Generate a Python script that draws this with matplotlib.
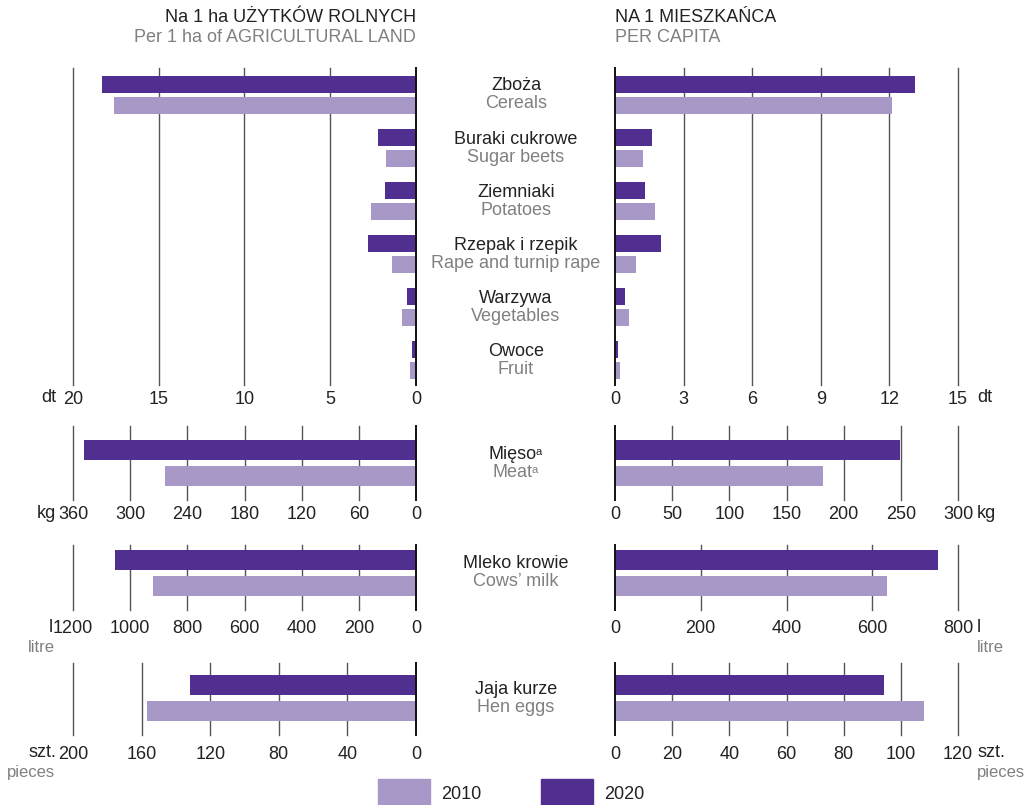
import matplotlib.pyplot as plt
from matplotlib.patches import Rectangle

plt.rcParams['font.family'] = ['Liberation Sans', 'DejaVu Sans']

W, H = 1035, 805
C2010 = '#a898c8'
C2020 = '#512f90'
DARK = '#222222'
GRAY = '#808080'
FS = 13

# data
crops_pl = ['Zboża', 'Buraki cukrowe', 'Ziemniaki', 'Rzepak i rzepik', 'Warzywa', 'Owoce']
crops_en = ['Cereals', 'Sugar beets', 'Potatoes', 'Rape and turnip rape', 'Vegetables', 'Fruit']
crops_ha_2010 = [17.6, 1.73, 2.63, 1.38, 0.8, 0.33]
crops_ha_2020 = [18.3, 2.2, 1.79, 2.78, 0.51, 0.21]
crops_cap_2010 = [12.1, 1.21, 1.74, 0.9, 0.6, 0.2]
crops_cap_2020 = [13.1, 1.6, 1.3, 2.0, 0.42, 0.12]

meat_ha_2010, meat_ha_2020 = [263], [348]
meat_cap_2010, meat_cap_2020 = [182], [249]
milk_ha_2010, milk_ha_2020 = [921], [1054]
milk_cap_2010, milk_cap_2020 = [634], [753]
eggs_ha_2010, eggs_ha_2020 = [157], [132]
eggs_cap_2010, eggs_cap_2020 = [108], [94]

crops_ha_ticks = [0, 5, 10, 15, 20]
crops_cap_ticks = [0, 3, 6, 9, 12, 15]
meat_ha_ticks = [0, 60, 120, 180, 240, 300, 360]
meat_cap_ticks = [0, 50, 100, 150, 200, 250, 300]
milk_ha_ticks = [0, 200, 400, 600, 800, 1000, 1200]
milk_cap_ticks = [0, 200, 400, 600, 800]
eggs_ha_ticks = [0, 40, 80, 120, 160, 200]
eggs_cap_ticks = [0, 20, 40, 60, 80, 100, 120]

fig = plt.figure(figsize=(W / 100, H / 100), dpi=100)


def fx(x):
    return x / W


def fy(y):
    return 1 - y / H


def make_ax(x0, x1, y0, y1):
    return fig.add_axes([fx(x0), fy(y1), (x1 - x0) / W, (y1 - y0) / H])


def draw_panel(ax, v2010, v2020, centers, off, h, ticks, left, span, pad):
    ax.set_ylim(span, 0)
    for t in ticks[1:]:
        ax.axvline(t, color='#555555', lw=1.0, zorder=0, clip_on=False)
    ax.barh([c + off for c in centers], v2010, height=h, color=C2010, zorder=2)
    ax.barh([c - off for c in centers], v2020, height=h, color=C2020, zorder=2)
    ax.axvline(0, color='#111111', lw=1.4, zorder=3, clip_on=False)
    if left:
        ax.set_xlim(ticks[-1], 0)
    else:
        ax.set_xlim(0, ticks[-1])
    ax.set_xticks(ticks)
    ax.set_xticklabels([str(t) for t in ticks])
    ax.set_yticks([])
    ax.tick_params(axis='x', length=0, pad=pad, labelsize=FS, labelcolor=DARK)
    for s in ax.spines.values():
        s.set_visible(False)
    ax.patch.set_alpha(0)


LX0, LX1, RX0, RX1 = 73, 416, 615, 958
panels = [
    # top, bottom, pair centers (px from top), bar offset, bar height, tick pad
    (68, 385, [27 + 53 * i for i in range(6)], 10.5, 17, 4.0,
     crops_ha_2010, crops_ha_2020, crops_ha_ticks,
     crops_cap_2010, crops_cap_2020, crops_cap_ticks),
    (426, 500, [37], 13, 20, 4.5,
     meat_ha_2010, meat_ha_2020, meat_ha_ticks,
     meat_cap_2010, meat_cap_2020, meat_cap_ticks),
    (545, 610, [28], 13, 20, 7.5,
     milk_ha_2010, milk_ha_2020, milk_ha_ticks,
     milk_cap_2010, milk_cap_2020, milk_cap_ticks),
    (663, 735, [35], 13, 20, 8.0,
     eggs_ha_2010, eggs_ha_2020, eggs_ha_ticks,
     eggs_cap_2010, eggs_cap_2020, eggs_cap_ticks),
]

axes = []
for top, bot, centers, off, h, pad, l10, l20, lt, r10, r20, rt in panels:
    axl = make_ax(LX0, LX1, top, bot)
    draw_panel(axl, l10, l20, centers, off, h, lt, True, bot - top, pad)
    axr = make_ax(RX0, RX1, top, bot)
    draw_panel(axr, r10, r20, centers, off, h, rt, False, bot - top, pad)
    axes.append(axl)

# category labels in the middle ("a" marks a footnote superscript)
labels_pl = crops_pl + ['Mięso', 'Mleko krowie', 'Jaja kurze']
labels_en = crops_en + ['Meat', 'Cows’ milk', 'Hen eggs']
footnote = [False] * 6 + [True, False, False]
mids = [68 + 27 + 53 * i for i in range(6)] + [463, 573, 698]
for pl, en, m, fn in zip(labels_pl, labels_en, mids, footnote):
    shift = -3 if fn else 0
    t1 = fig.text(fx(516 + shift), fy(m - 9), pl, ha='center', va='center', fontsize=FS, color=DARK)
    t2 = fig.text(fx(516 + shift), fy(m + 9), en, ha='center', va='center', fontsize=FS, color=GRAY)
    if fn:
        for t, col in [(t1, DARK), (t2, GRAY)]:
            axes[0].annotate('a', xy=(1.0, 0.62), xycoords=t, xytext=(-0.8, 0),
                             textcoords='offset points', ha='left', va='center',
                             fontsize=8, color=col, annotation_clip=False)

# titles
fig.text(fx(416), fy(18), 'Na 1 ha UŻYTKÓW ROLNYCH', ha='right', va='center', fontsize=FS, color=DARK)
fig.text(fx(416), fy(38), 'Per 1 ha of AGRICULTURAL LAND', ha='right', va='center', fontsize=FS, color=GRAY)
fig.text(fx(615), fy(18), 'NA 1 MIESZKAŃCA', ha='left', va='center', fontsize=FS, color=DARK)
fig.text(fx(615), fy(38), 'PER CAPITA', ha='left', va='center', fontsize=FS, color=GRAY)

# units
units = [(397, 'dt', None, 56), (513, 'kg', None, 56), (627, 'l', 'litre', 53), (752, 'szt.', 'pieces', 56)]
for y, u, u2, xr in units:
    fig.text(fx(xr), fy(y), u, ha='right', va='center', fontsize=FS, color=DARK)
    fig.text(fx(977), fy(y), u, ha='left', va='center', fontsize=FS, color=DARK)
    if u2:
        fig.text(fx(55), fy(y + 20), u2, ha='right', va='center', fontsize=12, color=GRAY)
        fig.text(fx(977), fy(y + 20), u2, ha='left', va='center', fontsize=12, color=GRAY)

# legend
for x, c, lab in [(378, C2010, '2010'), (541, C2020, '2020')]:
    fig.add_artist(Rectangle((fx(x), fy(810)), 52 / W, 31 / H, transform=fig.transFigure,
                             color=c, clip_on=False))
    fig.text(fx(x + 63), fy(794), lab, ha='left', va='center', fontsize=FS, color=DARK)

fig.savefig('out.png', dpi=100)
